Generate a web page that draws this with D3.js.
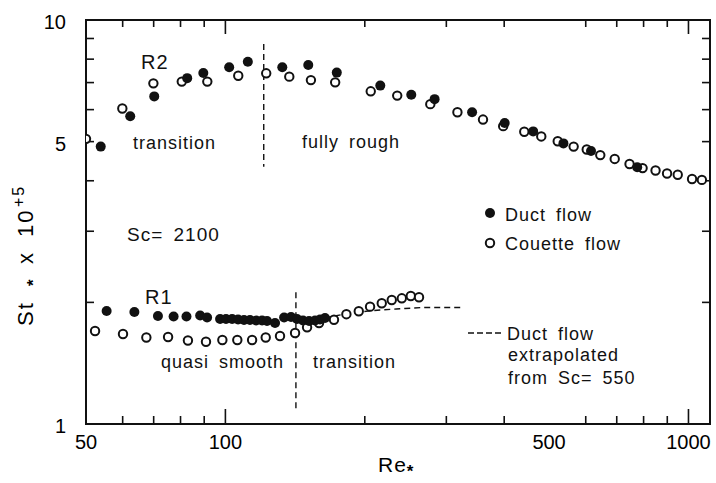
<!DOCTYPE html>
<html>
<head>
<meta charset="utf-8">
<script src="https://cdn.jsdelivr.net/npm/d3@7"></script>
<style>
body{margin:0;background:#fff}
svg{display:block;font-family:"Liberation Sans",Arial,sans-serif}
</style>
</head>
<body>
<script>
// R2 surface, duct flow (filled) and couette flow (open)
var r2DuctRe = [53.8, 62.3, 70.2, 82.7, 89.6, 101.9, 111.8, 132.7, 151, 174, 216, 252, 283, 341, 401, 462, 537, 616, 775];
var r2DuctSt = [4.86, 5.78, 6.47, 7.18, 7.39, 7.64, 7.88, 7.64, 7.74, 7.41, 6.88, 6.53, 6.37, 5.91, 5.56, 5.30, 4.95, 4.74, 4.32];
var r2CouetteRe = [50, 59.9, 69.9, 80.5, 91.4, 106.6, 122.5, 137.4, 153, 172.6, 206, 235, 277, 317, 360, 398, 442, 481, 522, 565, 603, 645, 693, 746, 796, 849, 899, 948, 1018, 1069];
var r2CouetteSt = [5.08, 6.04, 6.97, 7.04, 7.04, 7.28, 7.38, 7.24, 7.10, 7.01, 6.66, 6.50, 6.19, 5.91, 5.67, 5.46, 5.29, 5.15, 5.01, 4.86, 4.78, 4.63, 4.53, 4.40, 4.30, 4.24, 4.17, 4.14, 4.04, 4.02];

// R1 surface
var r1DuctRe = [55.4, 63.6, 71.5, 77.3, 82.4, 88.2, 91.3, 97.4, 100.3, 103.4, 106.5, 109.7, 113.0, 116.5, 120.0, 123.0, 128.0, 133.9, 138.6, 142.8, 147.1, 151.6, 156.2, 160.1, 164.1];
var r1DuctSt = [1.905, 1.893, 1.851, 1.845, 1.845, 1.856, 1.835, 1.819, 1.819, 1.819, 1.814, 1.809, 1.809, 1.804, 1.804, 1.799, 1.778, 1.835, 1.840, 1.819, 1.804, 1.799, 1.804, 1.814, 1.830];
var r1CouetteRe = [52.3, 60.1, 67.5, 75.2, 83.0, 90.8, 98.5, 106.1, 114.2, 122.2, 131.2, 141.4, 150.1, 159.3, 171.6, 182.5, 194.1, 205.3, 217.6, 228.7, 240.4, 251.4, 261.9];
var r1CouetteSt = [1.699, 1.670, 1.637, 1.642, 1.609, 1.598, 1.614, 1.614, 1.614, 1.637, 1.651, 1.680, 1.735, 1.778, 1.812, 1.870, 1.902, 1.952, 1.990, 2.027, 2.047, 2.074, 2.059];

// duct flow extrapolated from Sc=550
var extrapRe = [164, 182, 205, 238, 277, 322];
var extrapSt = [1.83, 1.872, 1.905, 1.928, 1.943, 1.943];

// regime boundaries (Re, St from, St to)
var boundRe = [121, 142];
var boundLo = [4.33, 1.07];
var boundHi = [8.72, 2.12];

var xMinor = [60, 70, 80, 90, 200, 300, 400, 600, 700, 800, 900];
var xMajor = [100, 1000];
var xLabels = [50, 100, 500, 1000];
var yMinor = [2, 3, 4, 5, 6, 7, 8, 9];
var yLabels = [1, 5, 10];

var width = 716, height = 483;
var pLeft = 86, pRight = 710, pTop = 20, pBottom = 424;

var svg = d3.select("body").append("svg")
    .attr("width", width)
    .attr("height", height);

var x = d3.scaleLog().domain([50, 1113]).range([pLeft, pRight]);
var y = d3.scaleLog().domain([1, 10]).range([pBottom, pTop]);

svg.append("clipPath").attr("id", "plot")
  .append("rect")
    .attr("x", pLeft).attr("y", pTop)
    .attr("width", pRight - pLeft).attr("height", pBottom - pTop);

// frame
svg.append("rect")
    .attr("x", pLeft).attr("y", pTop)
    .attr("width", pRight - pLeft).attr("height", pBottom - pTop)
    .attr("fill", "none").attr("stroke", "#111").attr("stroke-width", 2);

var ticks = svg.append("g").attr("stroke", "#111").attr("stroke-width", 1.6);
xMinor.concat(xMajor).forEach(function(v){
    var len = xMajor.indexOf(v) >= 0 ? 15 : 8;
    ticks.append("line").attr("x1", x(v)).attr("x2", x(v)).attr("y1", pBottom).attr("y2", pBottom - len);
    ticks.append("line").attr("x1", x(v)).attr("x2", x(v)).attr("y1", pTop).attr("y2", pTop + len - 1);
});
yMinor.forEach(function(v){
    ticks.append("line").attr("x1", pLeft).attr("x2", pLeft + 8).attr("y1", y(v)).attr("y2", y(v));
    ticks.append("line").attr("x1", pRight).attr("x2", pRight - 8).attr("y1", y(v)).attr("y2", y(v));
});

// tick labels
svg.append("g").selectAll("text").data(xLabels).join("text")
    .attr("x", function(d){ return x(d); })
    .attr("y", pBottom + 25)
    .attr("text-anchor", "middle")
    .attr("font-size", 20)
    .text(function(d){ return d; });
svg.append("g").selectAll("text").data(yLabels).join("text")
    .attr("x", pLeft - 20)
    .attr("y", function(d){ return y(d) + 9; })
    .attr("text-anchor", "end")
    .attr("font-size", 20)
    .text(function(d){ return d; });

// axis titles
var xt = svg.append("text").attr("x", 378).attr("y", 472).attr("font-size", 21)
    .attr("letter-spacing", 1).text("Re");
xt.append("tspan").attr("dy", 5).attr("font-size", 17).attr("font-weight", "bold").text("*");

var yt = svg.append("text")
    .attr("transform", "translate(33,326) rotate(-90)")
    .attr("font-size", 22)
    .attr("letter-spacing", 2);
yt.append("tspan").attr("x", 0).text("St");
yt.append("tspan").attr("x", 40).attr("dy", 6).attr("font-size", 17).attr("font-weight", "bold").text("*");
yt.append("tspan").attr("x", 62).attr("dy", -6).text("x");
yt.append("tspan").attr("x", 89).text("10");
yt.append("tspan").attr("x", 119).attr("dy", -9).attr("font-size", 16).text("+5");

// regime boundaries
svg.append("g").selectAll("line").data(boundRe).join("line")
    .attr("x1", function(d){ return x(d); })
    .attr("x2", function(d){ return x(d); })
    .attr("y1", function(d, i){ return y(boundHi[i]); })
    .attr("y2", function(d, i){ return y(boundLo[i]); })
    .attr("stroke", "#111").attr("stroke-width", 1.4)
    .attr("stroke-dasharray", "6,4");

// extrapolated duct flow curve
var line = d3.line()
    .x(function(d){ return x(d[0]); })
    .y(function(d){ return y(d[1]); })
    .curve(d3.curveMonotoneX);
svg.append("path")
    .datum(d3.zip(extrapRe, extrapSt))
    .attr("d", line)
    .attr("fill", "none").attr("stroke", "#111").attr("stroke-width", 1.4)
    .attr("stroke-dasharray", "6,4");

var pts = svg.append("g").attr("clip-path", "url(#plot)");

function openPts(re, st){
    pts.append("g").selectAll("circle").data(d3.zip(re, st)).join("circle")
        .attr("cx", function(d){ return x(d[0]); })
        .attr("cy", function(d){ return y(d[1]); })
        .attr("r", 4.2)
        .attr("fill", "#fff").attr("stroke", "#111").attr("stroke-width", 2);
}
function filledPts(re, st){
    pts.append("g").selectAll("circle").data(d3.zip(re, st)).join("circle")
        .attr("cx", function(d){ return x(d[0]); })
        .attr("cy", function(d){ return y(d[1]); })
        .attr("r", 5)
        .attr("fill", "#111");
}
openPts(r2CouetteRe, r2CouetteSt);
filledPts(r2DuctRe, r2DuctSt);
openPts(r1CouetteRe, r1CouetteSt);
filledPts(r1DuctRe, r1DuctSt);

// annotations
var notes = [
    ["R2", 141, 69, 20],
    ["transition", 133, 149, 18],
    ["fully rough", 302, 148, 18],
    ["Sc= 2100", 127, 241, 19],
    ["R1", 145, 304, 20],
    ["quasi smooth", 161, 368, 18],
    ["transition", 313, 368, 18],
    ["Duct flow", 505, 221, 18],
    ["Couette flow", 505, 250, 18],
    ["Duct flow", 507, 340, 18],
    ["extrapolated", 508, 361, 18],
    ["from Sc= 550", 508, 384, 18]
];
svg.append("g").selectAll("text").data(notes).join("text")
    .attr("x", function(d){ return d[1]; })
    .attr("y", function(d){ return d[2]; })
    .attr("font-size", function(d){ return d[3]; })
    .attr("letter-spacing", 1)
    .attr("word-spacing", 4)
    .attr("fill", "#111")
    .text(function(d){ return d[0]; });

// legend markers
svg.append("circle").attr("cx", 490).attr("cy", 213).attr("r", 5).attr("fill", "#111");
svg.append("circle").attr("cx", 490).attr("cy", 243).attr("r", 4.2)
    .attr("fill", "#fff").attr("stroke", "#111").attr("stroke-width", 2);
svg.append("line").attr("x1", 468).attr("x2", 503).attr("y1", 333).attr("y2", 333)
    .attr("stroke", "#111").attr("stroke-width", 1.4).attr("stroke-dasharray", "6,3");
</script>
</body>
</html>
